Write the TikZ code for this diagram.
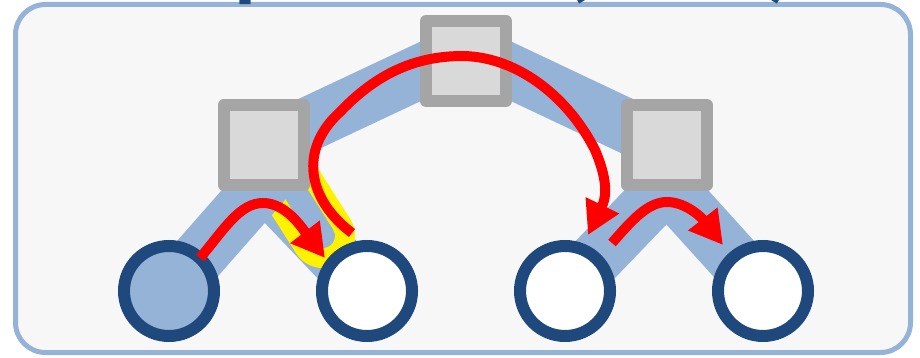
\documentclass[tikz,border=0pt]{standalone}
\usepackage{fontspec}
\newfontfamily\titlefont{Carlito}
\usetikzlibrary{arrows.meta,positioning,backgrounds}
\definecolor{panelblue}{HTML}{95B3D7}
\definecolor{panelfill}{HTML}{F7F7F7}
\definecolor{sqgray}{HTML}{A5A5A5}
\definecolor{sqfill}{HTML}{D9D9D9}
\definecolor{ringblue}{HTML}{1F497D}

\begin{document}
\begin{tikzpicture}[
    x=1pt, y=-1pt,
    on grid,
    sqbox/.style={rectangle,draw=sqgray,fill=sqfill,line width=12pt,line join=round,minimum size=80pt,inner sep=0pt},
    ring/.style={circle,draw=ringblue,fill=white,line width=12pt,minimum size=90pt,inner sep=0pt},
    band/.style={draw=panelblue,line width=54pt,line cap=round,line join=round},
    hilite/.style={draw=yellow,line width=20pt,double=panelblue,double distance=24pt,line cap=round},
    redarrow/.style={draw=red,line width=10pt,-{Triangle[length=33pt,width=35pt]}},
    titletext/.style={text=ringblue,font=\titlefont\bfseries\fontsize{90}{90}\selectfont,inner sep=0pt,anchor=base west}
]
\path[use as bounding box] (0,0) rectangle (920,358);
\clip (0,0) rectangle (920,358);

% tree
\node[sqbox] (T) at (466,61) {};
\node[sqbox,below left=84pt and 202pt of T] (L) {};
\node[sqbox,below right=84pt and 201pt of T] (R) {};
\node[ring,fill=panelblue,below left=146pt and 95pt of L] (A) {};
\node[ring,below right=146pt and 103pt of L] (B) {};
\node[ring,below left=146pt and 102pt of R] (C) {};
\node[ring,below right=146pt and 96pt of R] (D) {};

% title, cut by the top edge
\node[titletext] (t1) at (234,-9) {p};
\node[titletext] (t2) at (562,-9) {(};
\node[titletext] (t3) at (766,-9) {)};

% panel and edges behind the tree
\begin{pgfonlayer}{background}
\draw[draw=panelblue,fill=panelfill,line width=5pt,rounded corners=30pt] (15.5,4.5) rectangle (910.5,352.5);
\draw[band] (L.center) -- ([yshift=11pt]T.center) -- (R.center);
\draw[band] ([yshift=8pt]L.south) -- (B.center);
\draw[hilite] (292,187) -- (323,236);
\draw[band] ([yshift=8pt]L.south) -- (A.center);
\draw[band] (C.center) -- ([yshift=6pt]R.south) -- (D.center);
\end{pgfonlayer}

% traversal
\coordinate (a1) at (200,258);
\coordinate (a2) at (325,258);
\coordinate (b1) at (352,233);
\coordinate (b2) at (588,235);
\coordinate (c1) at (612,243);
\coordinate (c2) at (723,245);
\draw[redarrow] (a1) .. controls (225,228) and (240,203) .. (263,203) .. controls (286,203) and (302,228) .. (a2);
\draw[redarrow] (b1) .. controls (308,200) and (298,150) .. (340,112) .. controls (380,70) and (420,56) .. (463,56) .. controls (520,57) and (570,100) .. (595,150) .. controls (610,185) and (605,200) .. (b2);
\draw[redarrow] (c1) .. controls (632,220) and (648,202) .. (667,202) .. controls (686,202) and (702,218) .. (c2);

\end{tikzpicture}
\end{document}
